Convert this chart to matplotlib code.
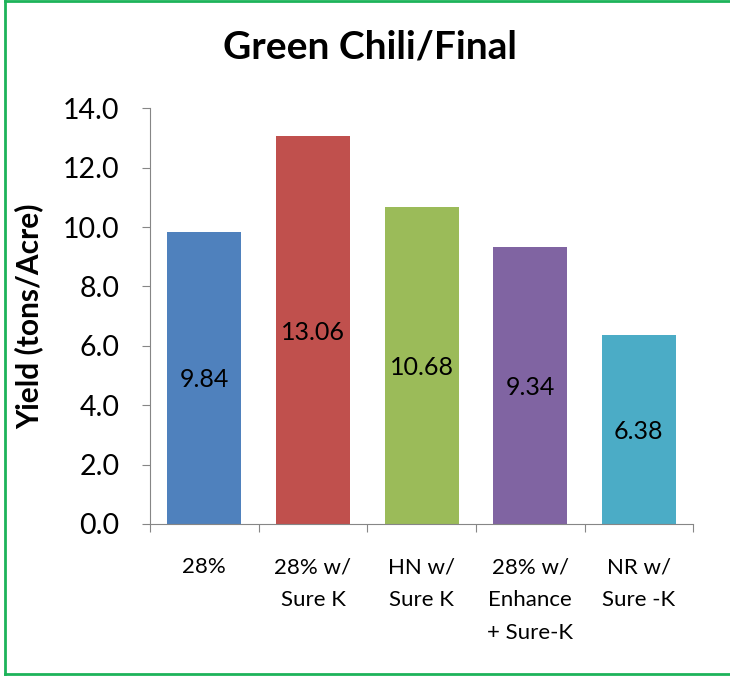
import matplotlib.pyplot as plt
from matplotlib.lines import Line2D

categories = ['28%', '28% w/\nSure K', 'HN w/\nSure K', '28% w/\nEnhance\n+ Sure-K', 'NR w/\nSure -K']
yields = [9.84, 13.06, 10.68, 9.34, 6.38]
colors = ['#4F81BD', '#C0504D', '#9BBB59', '#8064A2', '#4BACC6']
yticks = [0, 2, 4, 6, 8, 10, 12, 14]

plt.rcParams['font.family'] = ['Lato', 'DejaVu Sans']

fig = plt.figure(figsize=(7.3, 6.77), dpi=100)
ax = fig.add_axes([0.2055, 0.226, 0.744, 0.614])

x = list(range(len(categories)))
bars = ax.bar(x, yields, width=0.68, color=colors)
for b, v in zip(bars, yields):
    ax.text(b.get_x() + b.get_width() / 2, v / 2, f'{v:.2f}',
            ha='center', va='center_baseline', fontsize=18)

ax.set_xlim(-0.5, len(categories) - 0.5)
ax.set_ylim(0, 14)
ax.set_yticks(yticks)
ax.set_yticklabels([f'{t:.1f}' for t in yticks], fontsize=20.5)

# boundary ticks on the x axis, labels centred under the bars
ax.set_xticks([i - 0.5 for i in range(len(categories) + 1)])
ax.set_xticklabels([])
ax.set_xticks(x, minor=True)
ax.set_xticklabels(categories, minor=True, fontsize=16, linespacing=1.8, va='top')
ax.tick_params(axis='x', which='minor', length=0, pad=24)
ax.tick_params(axis='x', which='major', length=6, color='#868686', direction='out')
ax.tick_params(axis='y', length=6, color='#868686', direction='out', pad=16)

for s in ['top', 'right']:
    ax.spines[s].set_visible(False)
ax.spines['left'].set_color('#868686')
ax.spines['bottom'].set_color('#868686')

ax.set_ylabel('Yield (tons/Acre)', fontsize=21.5, fontweight='bold')
ax.yaxis.set_label_coords(-0.197, 0.5)
fig.text(0.507, 0.9143, 'Green Chili/Final', ha='center', va='baseline',
         fontsize=28, fontweight='bold')

# green frame (left, top, bottom)
g = '#1DB35A'
fig.add_artist(Line2D([0.0065, 0.0065], [0.004, 0.998], color=g, lw=2, transform=fig.transFigure))
fig.add_artist(Line2D([0.0065, 1.0], [0.998, 0.998], color=g, lw=2, transform=fig.transFigure))
fig.add_artist(Line2D([0.0065, 1.0], [0.004, 0.004], color=g, lw=2, transform=fig.transFigure))

plt.savefig('out.png')
